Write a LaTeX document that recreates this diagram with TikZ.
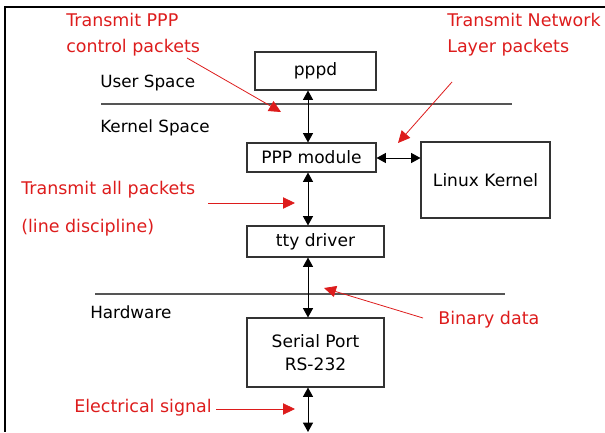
\documentclass[tikz,border=0pt]{standalone}
\usepackage{fontspec}
\setmainfont{DejaVu Sans}
\usetikzlibrary{arrows.meta}
\definecolor{lblred}{HTML}{DD1C1C}
\definecolor{boxgray}{HTML}{333333}
\definecolor{sepgray}{HTML}{555555}
\tikzset{
  boxnode/.style={draw=boxgray, line width=0.8pt, inner sep=0pt, font=\fontsize{12.8}{17.25}\selectfont, text=black, align=center},
  layertext/.style={anchor=west, inner sep=0pt, font=\fontsize{12.6}{15}\selectfont, text=black},
  redtext/.style={anchor=west, inner sep=0pt, font=\fontsize{13.1}{19.5}\selectfont, text=lblred, align=left},
  dataflow/.style={line width=0.75pt, black, {Triangle[length=7pt,width=7.5pt]}-{Triangle[length=7pt,width=7.5pt]}},
  redarrow/.style={line width=0.6pt, lblred, -{Triangle[length=9pt,width=8.5pt]}},
  sepline/.style={line width=0.9pt, sepgray},
  frameline/.style={line width=1.6pt, black}
}
\begin{document}
\begin{tikzpicture}[x=0.75pt,y=-0.75pt]
\useasboundingbox (0,0) rectangle (605,432);
% frame
\coordinate (ftl) at (5,7);
\coordinate (ftr) at (605,7);
\coordinate (fbl) at (5,432);
\draw[frameline] (ftr) -- (ftl) -- (fbl);
% separators
\coordinate (s1a) at (101,104);
\coordinate (s1b) at (512,104);
\coordinate (s2a) at (95,294);
\coordinate (s2b) at (505,294);
\draw[sepline] (s1a) -- (s1b);
\draw[sepline] (s2a) -- (s2b);
% layer labels
\node[layertext] (user) at (100,83) {User Space};
\node[layertext] (kernel) at (100,128) {Kernel Space};
\node[layertext] (hw) at (90,312) {Hardware};
% boxes
\node[boxnode, minimum width=121*0.75pt, minimum height=38*0.75pt] (pppd) at (315.5,71) {pppd};
\node[boxnode, minimum width=129*0.75pt, minimum height=29*0.75pt] (pppmod) at (311.5,157.5) {PPP module};
\node[boxnode, minimum width=129*0.75pt, minimum height=76*0.75pt] (linux) at (485.5,180) {Linux Kernel};
\node[boxnode, minimum width=137*0.75pt, minimum height=31*0.75pt] (tty) at (315.5,241.5) {tty driver};
\node[boxnode, minimum width=137*0.75pt, minimum height=69*0.75pt] (serial) at (315.5,352.5) {Serial Port\\RS-232};
% data flow arrows
\coordinate (bottom) at (308,432);
\draw[dataflow] (pppd.south -| bottom) -- (pppmod.north -| bottom);
\draw[dataflow] (pppmod.south -| bottom) -- (tty.north -| bottom);
\draw[dataflow] (tty.south -| bottom) -- (serial.north -| bottom);
\draw[dataflow] (serial.south -| bottom) -- (bottom);
\coordinate (hy) at (0,158);
\draw[dataflow] (pppmod.east |- hy) -- (linux.west |- hy);
% red labels
\node[redtext] (tppp) at (66,35) {Transmit PPP\\control packets};
\node[redtext] (tnet) at (447,35) {Transmit Network\\Layer packets};
\node[redtext] (tall) at (21,190) {Transmit all packets};
\node[redtext] (ldisc) at (21,228) {(line discipline)};
\node[redtext] (bin) at (438,320) {Binary data};
\node[redtext] (elec) at (74,408) {Electrical signal};
% red arrows
\coordinate (a1s) at (187,58);  \coordinate (a1e) at (281,112);
\coordinate (a2s) at (452,82);  \coordinate (a2e) at (398,143);
\coordinate (a3s) at (208,203); \coordinate (a3e) at (295,203);
\coordinate (a4s) at (423,318); \coordinate (a4e) at (324,288);
\coordinate (a5s) at (216,409); \coordinate (a5e) at (295,409);
\draw[redarrow] (a1s) -- (a1e);
\draw[redarrow] (a2s) -- (a2e);
\draw[redarrow] (a3s) -- (a3e);
\draw[redarrow] (a4s) -- (a4e);
\draw[redarrow] (a5s) -- (a5e);
\end{tikzpicture}
\end{document}
